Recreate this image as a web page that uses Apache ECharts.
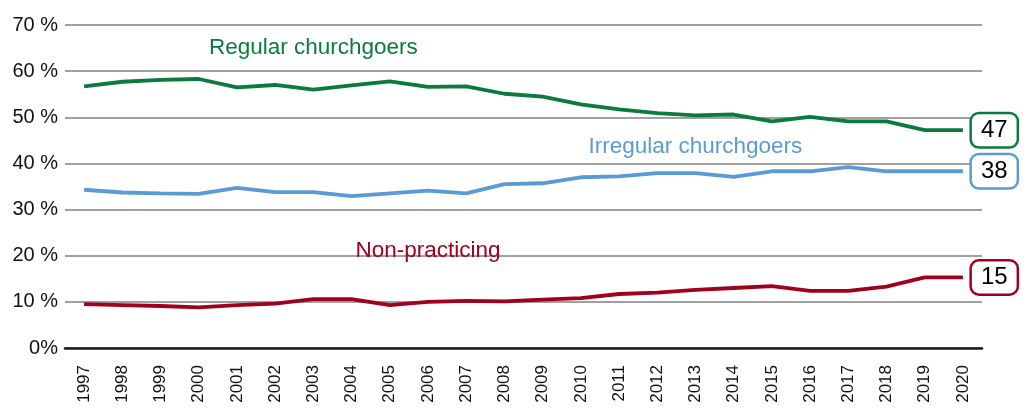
<!DOCTYPE html>
<html><head><meta charset="utf-8">
<script src="https://cdn.jsdelivr.net/npm/echarts@6/dist/echarts.min.js"></script>
<style>html,body{margin:0;padding:0;background:#fff}#c{width:1029px;height:410px}</style>
</head><body><div id="c"></div>
<script>
var years = ['1997','1998','1999','2000','2001','2002','2003','2004','2005','2006','2007','2008','2009','2010','2011','2012','2013','2014','2015','2016','2017','2018','2019','2020'];
var regular = [56.7,57.7,58.1,58.3,56.5,57.0,56.0,56.9,57.8,56.6,56.7,55.1,54.5,52.8,51.7,50.9,50.4,50.6,49.1,50.1,49.1,49.1,47.2,47.2];
var irregular = [34.3,33.7,33.5,33.4,34.7,33.8,33.8,32.9,33.5,34.1,33.5,35.5,35.7,37.0,37.2,37.9,37.9,37.1,38.3,38.3,39.2,38.3,38.3,38.3];
var nonPract = [9.5,9.3,9.1,8.8,9.3,9.6,10.6,10.6,9.3,10.0,10.2,10.1,10.5,10.8,11.7,12.0,12.6,13.0,13.4,12.4,12.4,13.3,15.3,15.3];
var endValues = ['47','38','15'];
var seriesNames = ['Regular churchgoers','Irregular churchgoers','Non-practicing'];
var nameAnchors = [['2003',65],['2013',43.5],['2006',21]];
var yTicks = {0:'0%',10:'10 %',20:'20 %',30:'30 %',40:'40 %',50:'50 %',60:'60 %',70:'70 %'};
var colors = ['#0b7a3e','#5b9bd5','#a0001e'];
var fontFam = '"Liberation Sans", Arial, sans-serif';

function mk(i, data){
  return {
    type: 'line', name: seriesNames[i], data: data, symbol: 'none', showSymbol: false,
    lineStyle: {color: colors[i], width: 3.8}, itemStyle: {color: colors[i]},
    z: 3,
    endLabel: {
      show: true, distance: 9, formatter: endValues[i],
      color: '#000', fontSize: 24, fontFamily: fontFam,
      backgroundColor: '#fff', borderColor: colors[i], borderWidth: 2.5, borderRadius: 7,
      align: 'left', verticalAlign: 'middle', lineHeight: 30, padding: [2, 9, 0, 9]
    },
    markPoint: {
      symbol: 'rect', symbolSize: 0, silent: true, animation: false,
      data: [{coord: nameAnchors[i], label: {show: true, position: 'inside', formatter: seriesNames[i],
        color: colors[i], fontSize: 22.5, fontFamily: fontFam}}]
    }
  };
}

var chart = echarts.init(document.getElementById('c'), null, {renderer: 'canvas'});
chart.setOption({
  animation: false,
  grid: {left: 65, right: 47, top: 25, bottom: 62, containLabel: false},
  xAxis: {
    type: 'category', data: years, boundaryGap: true,
    axisLine: {show: true, lineStyle: {color: '#1a1a1a', width: 2.5}},
    axisTick: {show: false},
    axisLabel: {rotate: 90, color: '#111', fontSize: 17, fontFamily: fontFam, margin: 17, interval: 0}
  },
  yAxis: {
    type: 'value', min: 0, max: 70, interval: 10,
    axisLine: {show: false}, axisTick: {show: false},
    axisLabel: {color: '#111', fontSize: 20, fontFamily: fontFam, margin: 7,
      formatter: function(v){ return yTicks[v]; }},
    splitLine: {lineStyle: {color: '#808080', width: 1.5}}
  },
  series: [mk(0, regular), mk(1, irregular), mk(2, nonPract)]
});
</script></body></html>
